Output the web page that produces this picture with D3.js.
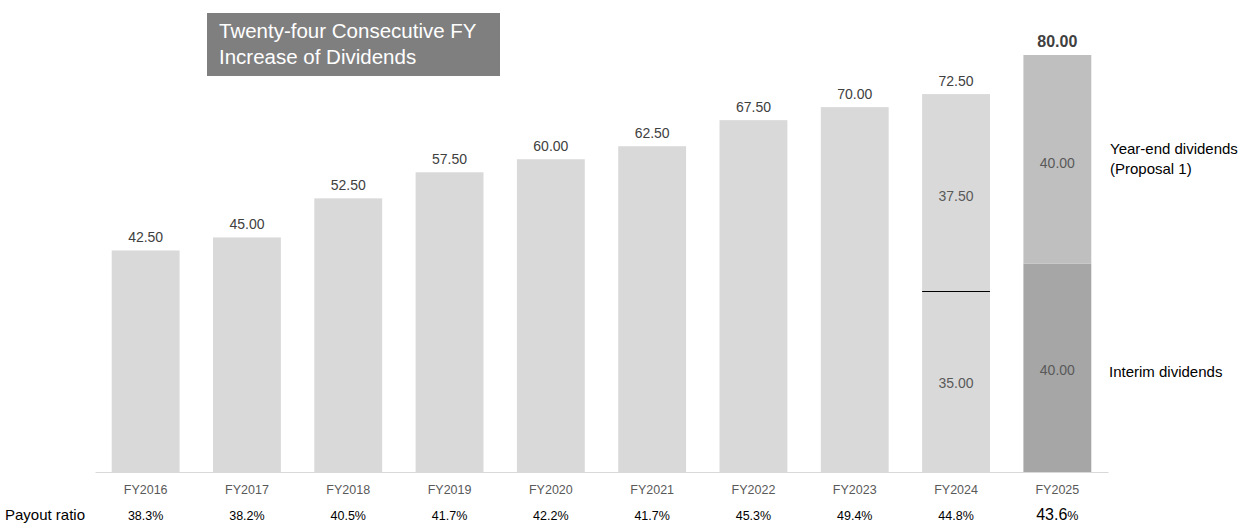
<!DOCTYPE html>
<html>
<head>
<meta charset="utf-8">
<script src="https://cdn.jsdelivr.net/npm/d3@7"></script>
<style>
  body { margin: 0; background: #fff; }
  svg { display: block; font-family: "Liberation Sans", Arial, sans-serif; }
</style>
</head>
<body>
<script>
const years = ["FY2016", "FY2017", "FY2018", "FY2019", "FY2020", "FY2021", "FY2022", "FY2023", "FY2024", "FY2025"];
const dividends = [42.5, 45, 52.5, 57.5, 60, 62.5, 67.5, 70, 72.5, 80];
const payoutRatio = [38.3, 38.2, 40.5, 41.7, 42.2, 41.7, 45.3, 49.4, 44.8, 43.6];
// split of the last two years
const splitYears = ["FY2024", "FY2025"];
const interim = [35, 40];
const yearEnd = [37.5, 40];

const W = 1243, H = 523;
const svg = d3.select("body").append("svg").attr("width", W).attr("height", H);

const x = d3.scaleBand().domain(years).range([95, 1108]).paddingInner(0.33).paddingOuter(0.165);
const y = d3.scaleLinear().domain([0, 80]).range([472, 55]);

const rows = years.map((yr, i) => ({ yr, v: dividends[i], p: payoutRatio[i] }));

// plain bars (all but FY2025)
svg.selectAll("rect.bar").data(rows.filter(d => d.yr !== "FY2025")).join("rect")
  .attr("class", "bar")
  .attr("x", d => x(d.yr)).attr("width", x.bandwidth())
  .attr("y", d => y(d.v)).attr("height", d => y(0) - y(d.v))
  .attr("fill", "#d9d9d9");

// FY2025 stacked
const last = splitYears.indexOf("FY2025");
svg.append("rect")
  .attr("x", x("FY2025")).attr("width", x.bandwidth())
  .attr("y", y(interim[last])).attr("height", y(0) - y(interim[last]))
  .attr("fill", "#a6a6a6");
svg.append("rect")
  .attr("x", x("FY2025")).attr("width", x.bandwidth())
  .attr("y", y(interim[last] + yearEnd[last])).attr("height", y(interim[last]) - y(interim[last] + yearEnd[last]))
  .attr("fill", "#bfbfbf");

// FY2024 separator line (snapped to a pixel row)
const prev = splitYears.indexOf("FY2024");
const sepY = Math.round(y(interim[prev])) + 1.5;
svg.append("line")
  .attr("x1", x("FY2024")).attr("x2", x("FY2024") + x.bandwidth())
  .attr("y1", sepY).attr("y2", sepY)
  .attr("stroke", "#000").attr("stroke-width", 1);

// inner labels
splitYears.forEach((yr, i) => {
  const cx = x(yr) + x.bandwidth() / 2;
  svg.append("text").attr("x", cx).attr("y", y(interim[i] / 2) + 7)
    .attr("text-anchor", "middle").attr("font-size", 14).attr("fill", "#595959")
    .text(interim[i].toFixed(2));
  svg.append("text").attr("x", cx).attr("y", y(interim[i] + yearEnd[i] / 2) + 9)
    .attr("text-anchor", "middle").attr("font-size", 14).attr("fill", "#595959")
    .text(yearEnd[i].toFixed(2));
});

// value labels
svg.selectAll("text.val").data(rows).join("text")
  .attr("class", "val")
  .attr("x", d => x(d.yr) + x.bandwidth() / 2)
  .attr("y", d => y(d.v) - 8)
  .attr("text-anchor", "middle")
  .attr("font-size", d => d.yr === "FY2025" ? 16 : 14)
  .attr("font-weight", d => d.yr === "FY2025" ? "bold" : "normal")
  .attr("fill", "#404040")
  .text(d => d.v.toFixed(2));

// x axis
const ax = svg.append("g").attr("transform", "translate(0,472)")
  .call(d3.axisBottom(x).tickSize(0).tickPadding(13));
ax.select(".domain").attr("stroke", "#d9d9d9");
ax.selectAll("text").attr("font-size", 12.5).attr("fill", "#595959")
  .attr("font-family", "Liberation Sans, Arial, sans-serif");

// payout ratio row
svg.append("text").attr("x", 5).attr("y", 520).attr("font-size", 15).attr("fill", "#000").text("Payout ratio");
const pr = svg.selectAll("text.pr").data(rows).join("text")
  .attr("class", "pr")
  .attr("x", d => x(d.yr) + x.bandwidth() / 2)
  .attr("y", 520)
  .attr("text-anchor", "middle").attr("fill", "#000");
pr.append("tspan").attr("font-size", d => d.yr === "FY2025" ? 16 : 12.5).text(d => d.p.toFixed(1));
pr.append("tspan").attr("font-size", 12.5).text("%");

// right side legend labels
const lg = svg.append("text").attr("x", 1110).attr("y", 154).attr("font-size", 15).attr("fill", "#000");
lg.append("tspan").attr("x", 1110).text("Year-end dividends");
lg.append("tspan").attr("x", 1110).attr("dy", 20).text("(Proposal 1)");
svg.append("text").attr("x", 1109).attr("y", 377).attr("font-size", 15).attr("fill", "#000").text("Interim dividends");

// title box
svg.append("rect").attr("x", 207).attr("y", 13).attr("width", 293).attr("height", 63).attr("fill", "#7f7f7f");
const tt = svg.append("text").attr("font-size", 20.5).attr("fill", "#fff");
tt.append("tspan").attr("x", 219).attr("y", 38).text("Twenty-four Consecutive FY");
tt.append("tspan").attr("x", 219).attr("y", 64).text("Increase of Dividends");
</script>
</body>
</html>
